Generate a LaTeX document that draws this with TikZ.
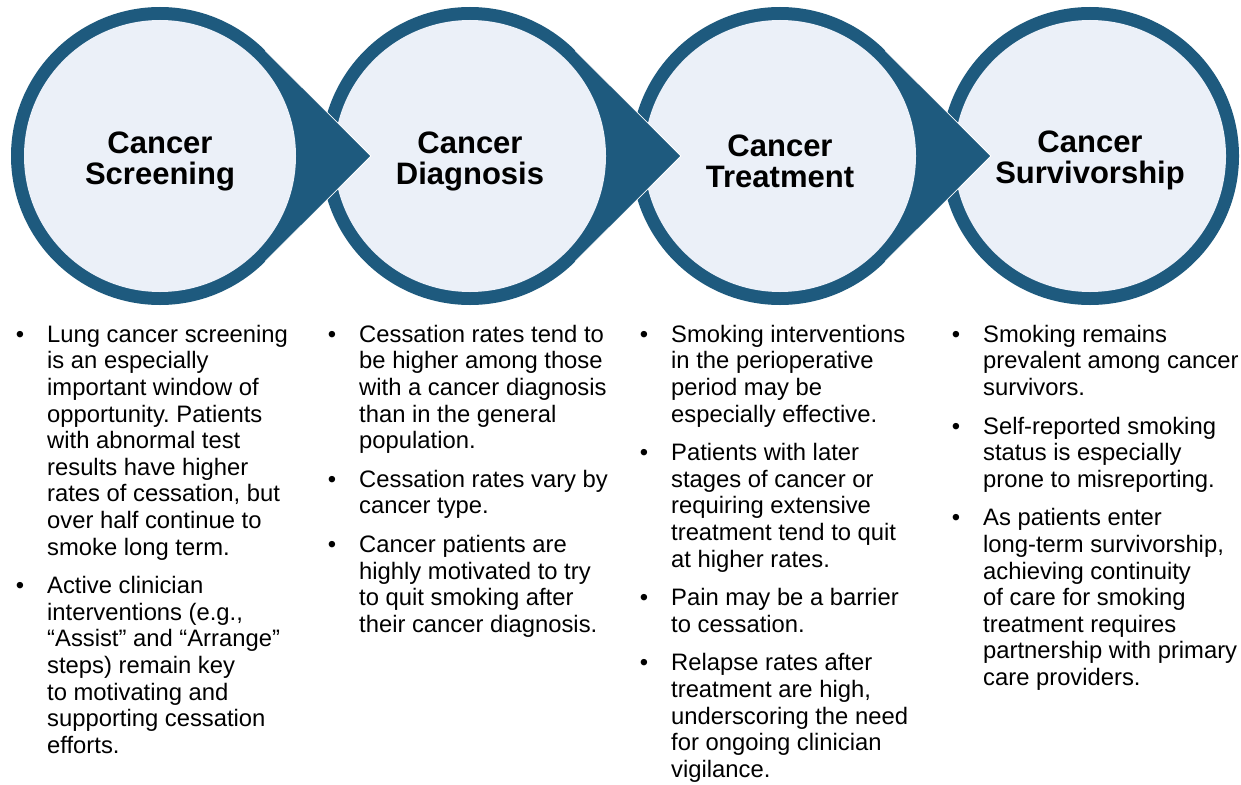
\documentclass[tikz,border=0pt]{standalone}
\usepackage{fontspec}
\setmainfont{Liberation Sans}
\usepackage{xcolor}
\usetikzlibrary{calc}
\definecolor{ringblue}{RGB}{30,90,126}
\definecolor{paleblue}{RGB}{235,240,248}
\newcommand{\bul}{\strut\llap{\textbullet\hspace{23pt}}}
\frenchspacing

\begin{document}
\begin{tikzpicture}[x=1pt, y=-1pt,
    ring/.style={fill=ringblue},
    edge/.style={draw=white, line width=0.8pt},
    disc/.style={fill=paleblue},
    stage/.style={align=center, inner sep=0pt, font=\fontsize{31}{31}\selectfont\bfseries},
    notes/.style={anchor=north west, align=left, inner sep=0pt, font=\fontsize{23.8}{26.6}\selectfont}
]
    \useasboundingbox (0,0) rectangle (1241,784);
    \coordinate (s1) at (160,156);
    \coordinate (s2) at (470,156);
    \coordinate (s3) at (780,156);
    \coordinate (s4) at (1090,156);
    \coordinate (a1) at ($(s1)+(211,0)$);
    \coordinate (a2) at ($(s2)+(211,0)$);
    \coordinate (a3) at ($(s3)+(211,0)$);

    % last stage first, so every arrow lies on the next circle
    \fill[ring] (s4) circle[radius=149];
    \fill[disc] (s4) circle[radius=136];
    \node[stage] (c4) at ($(s4)+(0,4)$) {Cancer\\Survivorship};

    \fill[ring] (s3) circle[radius=149];
    \fill[ring] (a3) -- ($(s3)+(45.1:149)$) -- ($(s3)+(-45.1:149)$) -- cycle;
    \draw[edge] ($(s3)+(45.1:149)$) -- (a3) -- ($(s3)+(-45.1:149)$);
    \fill[disc] (s3) circle[radius=136];
    \node[stage] (c3) at ($(s3)+(0,5)$) {Cancer\\Treatment};

    \fill[ring] (s2) circle[radius=149];
    \fill[ring] (a2) -- ($(s2)+(45.1:149)$) -- ($(s2)+(-45.1:149)$) -- cycle;
    \draw[edge] ($(s2)+(45.1:149)$) -- (a2) -- ($(s2)+(-45.1:149)$);
    \fill[disc] (s2) circle[radius=136];
    \node[stage] (c2) at ($(s2)+(0,5)$) {Cancer\\Diagnosis};

    \fill[ring] (s1) circle[radius=149];
    \fill[ring] (a1) -- ($(s1)+(45.1:149)$) -- ($(s1)+(-45.1:149)$) -- cycle;
    \draw[edge] ($(s1)+(45.1:149)$) -- (a1) -- ($(s1)+(-45.1:149)$);
    \fill[disc] (s1) circle[radius=136];
    \node[stage] (c1) at ($(s1)+(0,5)$) {Cancer\\Screening};

    % bullet lists
    \node[notes] (n1) at (47,323.4) {\bul Lung cancer screening\\is an especially\\important window of\\opportunity. Patients\\with abnormal test\\results have higher\\rates of cessation, but\\over half continue to\\smoke long term.\\[12pt]
        \bul Active clinician\\interventions (e.g.,\\“Assist” and “Arrange”\\steps) remain key\\to motivating and\\supporting cessation\\efforts.};
    \node[notes] (n2) at (359,323.4) {\bul Cessation rates tend to\\be higher among those\\with a cancer diagnosis\\than in the general\\population.\\[12pt]
        \bul Cessation rates vary by\\cancer type.\\[12pt]
        \bul Cancer patients are\\highly motivated to try\\to quit smoking after\\their cancer diagnosis.};
    \node[notes] (n3) at (671,323.4) {\bul Smoking interventions\\in the perioperative\\period may be\\especially effective.\\[12pt]
        \bul Patients with later\\stages of cancer or\\requiring extensive\\treatment tend to quit\\at higher rates.\\[12pt]
        \bul Pain may be a barrier\\to cessation.\\[12pt]
        \bul Relapse rates after\\treatment are high,\\underscoring the need\\for ongoing clinician\\vigilance.};
    \node[notes] (n4) at (983,323.4) {\bul Smoking remains\\prevalent among cancer\\survivors.\\[12pt]
        \bul Self-reported smoking\\status is especially\\prone to misreporting.\\[12pt]
        \bul As patients enter\\long-term survivorship,\\achieving continuity\\of care for smoking\\treatment requires\\partnership with primary\\care providers.};
\end{tikzpicture}
\end{document}
